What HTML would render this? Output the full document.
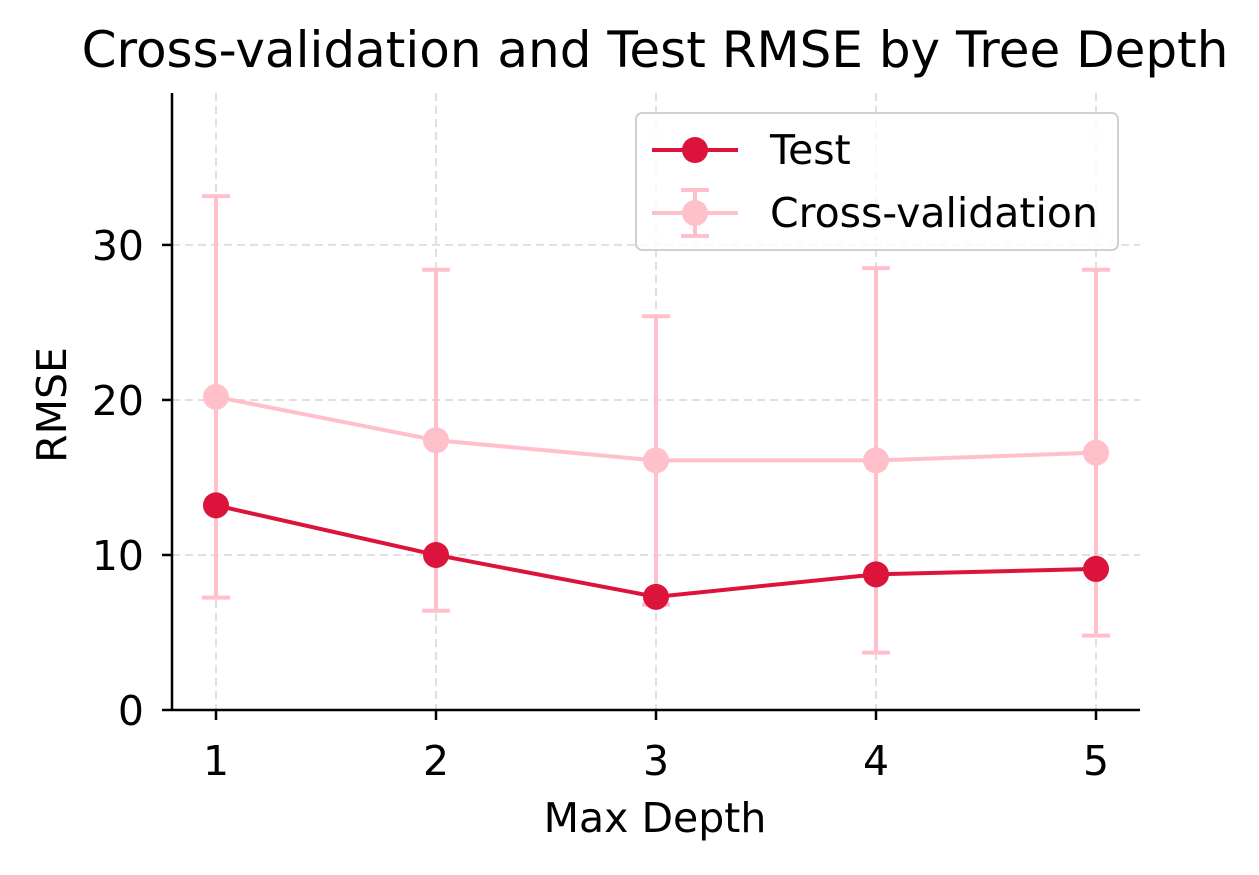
<!DOCTYPE html>
<html><head><meta charset="utf-8"><style>
body{margin:0;background:#fff;}
svg text{font-family:"DejaVu Sans","Liberation Sans",sans-serif;fill:#000;}
</style></head><body>
<svg id="chart" width="1259" height="870" xmlns="http://www.w3.org/2000/svg"></svg>
<script>
const depths=[1,2,3,4,5];
const testRmse=[13.2,10.0,7.3,8.75,9.1];
const cvRmse=[20.2,17.4,16.1,16.1,16.6];
const cvErr=[12.95,11.0,9.3,12.4,11.8];
const yTicks=[0,10,20,30];
const NS='http://www.w3.org/2000/svg';
const svg=document.getElementById('chart');
const L=172,R=1140,T=93,B=710,xmin=0.8,xmax=5.2,ymin=0,ymax=39.8;
const X=v=>L+(v-xmin)/(xmax-xmin)*(R-L);
const Y=v=>B-(v-ymin)/(ymax-ymin)*(B-T);
function mk(tag,attrs,parent){const e=document.createElementNS(NS,tag);for(const k in attrs)e.setAttribute(k,attrs[k]);(parent||svg).appendChild(e);return e;}
depths.forEach(d=>{const g=mk('line',{x1:X(d),x2:X(d),y1:T,y2:B,stroke:'#e0e0e0','stroke-width':2,'stroke-dasharray':'8,5'});

});
yTicks.forEach(t=>{const g=mk('line',{x1:L,x2:R,y1:Y(t),y2:Y(t),stroke:'#e0e0e0','stroke-width':2,'stroke-dasharray':'8,5'});

});
depths.forEach((d,i)=>{const grp=mk('g',{stroke:'#ffc0cb','stroke-width':4});


const hi=Y(cvRmse[i]+cvErr[i]),lo=Y(cvRmse[i]-cvErr[i]);
mk('line',{x1:X(d),x2:X(d),y1:hi,y2:lo},grp);
mk('line',{x1:X(d)-14,x2:X(d)+14,y1:hi,y2:hi},grp);
mk('line',{x1:X(d)-14,x2:X(d)+14,y1:lo,y2:lo},grp);});
function series(vals,color,name){
const p=mk('polyline',{points:depths.map((d,i)=>X(d)+','+Y(vals[i])).join(' '),fill:'none',stroke:color,'stroke-width':4});


depths.forEach((d,i)=>{const c=mk('circle',{cx:X(d),cy:Y(vals[i]),r:13,fill:color});

});}
series(cvRmse,'#ffc0cb','cv');
series(testRmse,'#dc143c','test');
let a=mk('line',{x1:L,x2:L,y1:T,y2:B,stroke:'#000','stroke-width':2.5});


a=mk('line',{x1:L,x2:R,y1:B,y2:B,stroke:'#000','stroke-width':2.5});


depths.forEach(d=>{mk('line',{x1:X(d),x2:X(d),y1:B,y2:B+10,stroke:'#000','stroke-width':2.5});
const t=mk('text',{x:X(d),y:B+65,'text-anchor':'middle','font-size':41});t.textContent=d;

});
yTicks.forEach(v=>{mk('line',{x1:L-10,x2:L,y1:Y(v),y2:Y(v),stroke:'#000','stroke-width':2.5});
const t=mk('text',{x:L-28,y:Y(v)+15,'text-anchor':'end','font-size':41});t.textContent=v;

});
</script>
<svg width="1259" height="870" style="position:absolute;left:0;top:0" xmlns="http://www.w3.org/2000/svg">
<text x="655" y="67" text-anchor="middle" font-size="50">Cross-validation and Test RMSE by Tree Depth</text>
<text x="655" y="832" text-anchor="middle" font-size="41">Max Depth</text>
<text x="66" y="405" text-anchor="middle" font-size="41" transform="rotate(-90 66 405)">RMSE</text>
<g>
<rect x="636" y="113" width="482" height="137" rx="6" fill="#fff" fill-opacity="0.8" stroke="#d0d0d0" stroke-width="2"/>
<g>
<line x1="652" x2="738" y1="150" y2="150" stroke="#dc143c" stroke-width="4"/>
<circle cx="695" cy="150" r="13" fill="#dc143c"/>
<text x="770" y="164" font-size="41">Test</text></g>
<g>
<line x1="652" x2="738" y1="213" y2="213" stroke="#ffc0cb" stroke-width="4"/>
<line x1="695" x2="695" y1="190" y2="236" stroke="#ffc0cb" stroke-width="4"/>
<line x1="681" x2="709" y1="190" y2="190" stroke="#ffc0cb" stroke-width="4"/>
<line x1="681" x2="709" y1="236" y2="236" stroke="#ffc0cb" stroke-width="4"/>
<circle cx="695" cy="213" r="13" fill="#ffc0cb"/>
<text x="770" y="227" font-size="41">Cross-validation</text></g>
</g>
</svg>
<style>text{font-family:"DejaVu Sans","Liberation Sans",sans-serif;}</style>
</body></html>
